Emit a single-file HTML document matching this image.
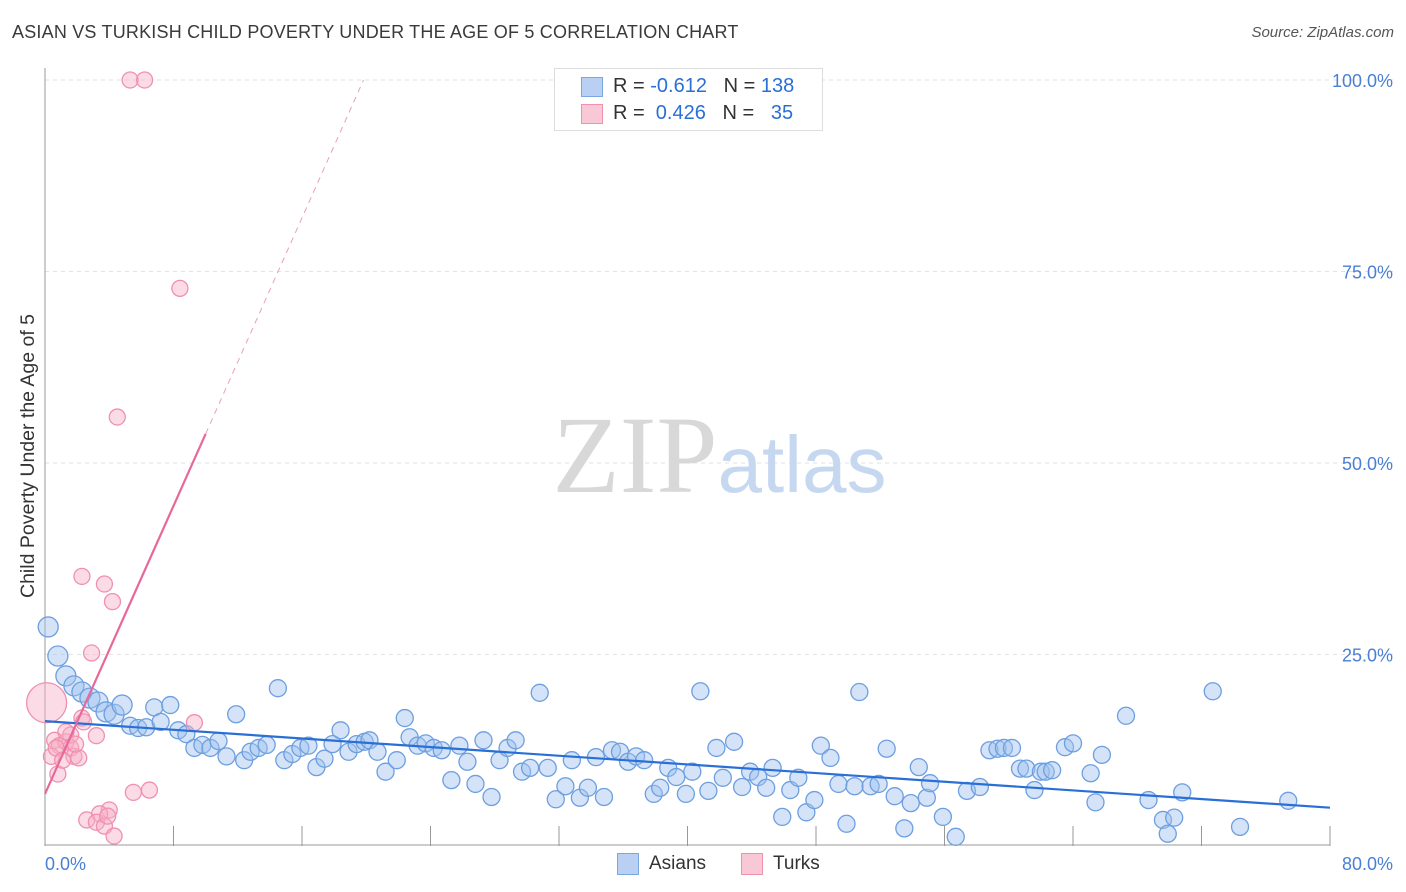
<!DOCTYPE html>
<html><head><meta charset="utf-8"><style>
body{margin:0;background:#fff;font-family:"Liberation Sans",sans-serif;}
#wrap{position:relative;width:1406px;height:892px;overflow:hidden;}
.t{position:absolute;white-space:nowrap;}
</style></head><body>
<div id="wrap">
<div class="t" style="left:12px;top:22px;font-size:18px;letter-spacing:0.2px;color:#3a3a3a;">ASIAN VS TURKISH CHILD POVERTY UNDER THE AGE OF 5 CORRELATION CHART</div>
<div class="t" style="right:12px;top:24px;font-size:15px;color:#555;font-style:italic;">Source: ZipAtlas.com</div>
<svg id="svg" width="1406" height="892" style="position:absolute;left:0;top:0"></svg>
</div>
<script>
const xTicks=[0,8,16,24,32,40,48,56,64,72,80];
const yTicks=[25,50,75,100];
const asianX=[0.2,0.8,1.3,1.8,2.3,2.8,3.3,3.8,4.3,4.8,5.3,5.8,6.3,6.8,7.2,7.8,8.3,8.8,9.3,9.8,10.3,10.8,11.3,11.9,12.4,12.8,13.3,13.8,14.5,14.9,15.4,15.9,16.4,16.9,17.4,17.9,18.4,18.9,19.4,19.9,20.2,20.7,21.2,21.9,22.4,22.7,23.2,23.7,24.2,24.7,25.3,25.8,26.3,26.8,27.3,27.8,28.3,28.8,29.3,29.7,30.2,30.8,31.3,31.8,32.4,32.8,33.3,33.8,34.3,34.8,35.3,35.8,36.3,36.8,37.3,37.9,38.3,38.8,39.3,39.9,40.3,40.8,41.3,41.8,42.2,42.9,43.4,43.9,44.4,44.9,45.3,45.9,46.4,46.9,47.4,47.9,48.3,48.9,49.4,49.9,50.4,50.7,51.4,51.9,52.4,52.9,53.5,53.9,54.4,54.9,55.1,55.9,56.7,57.4,58.2,58.8,59.3,59.7,60.2,60.7,61.1,61.6,62.0,62.3,62.7,63.5,64.0,65.1,65.4,65.8,67.3,68.7,69.6,69.9,70.3,70.8,72.7,74.4,77.4];
const asianY=[28.6,24.8,22.2,20.9,20.1,19.3,18.8,17.5,17.2,18.4,15.7,15.4,15.5,18.1,16.2,18.4,15.1,14.6,12.8,13.2,12.8,13.7,11.7,17.2,11.2,12.3,12.8,13.2,20.6,11.2,12.0,12.8,13.1,10.3,11.4,13.3,15.1,12.3,13.3,13.6,13.8,12.3,9.7,11.2,16.7,14.2,13.1,13.4,12.8,12.5,8.6,13.1,11.0,8.1,13.8,6.4,11.2,12.8,13.8,9.7,10.2,20.0,10.2,6.1,7.8,11.2,6.3,7.6,11.6,6.4,12.5,12.3,11.0,11.7,11.2,6.8,7.6,10.2,9.0,6.8,9.7,20.2,7.2,12.8,8.9,13.6,7.7,9.7,9.0,7.6,10.2,3.8,7.3,8.9,4.4,6.0,13.1,11.5,8.1,2.9,7.8,20.1,7.8,8.1,12.7,6.5,2.3,5.6,10.3,6.3,8.2,3.8,1.2,7.2,7.7,12.5,12.7,12.8,12.8,10.1,10.1,7.3,9.7,9.7,9.9,12.9,13.4,9.5,5.7,11.9,17.0,6.0,3.4,1.6,3.7,7.0,20.2,2.5,5.9];
const turkX=[5.3,6.2,8.4,4.5,2.3,3.7,4.2,2.9,0.1,2.3,2.4,9.3,0.6,0.9,1.3,1.6,1.8,2.1,3.2,1.6,0.4,0.8,6.5,5.5,4.0,3.4,2.6,3.2,3.7,4.3,3.9,1.3,0.7,1.1,1.9];
const turkY=[100,100,72.8,56.0,35.2,34.2,31.9,25.2,18.7,16.7,16.2,16.1,13.8,13.1,13.6,12.8,11.7,11.5,14.4,14.5,11.7,9.4,7.3,7.0,4.7,4.2,3.4,3.1,2.6,1.3,3.9,14.9,12.8,11.2,13.3];
const asianTrend=[16.3,5.0];
const turkTrend=[6.8,4.7];

const X=v=>45+v/80*1285, Y=v=>846-v*7.66;
const svg=document.getElementById('svg');
const NS='http://www.w3.org/2000/svg';
function mk(tag,attrs,parent){const e=document.createElementNS(NS,tag);for(const k in attrs)e.setAttribute(k,attrs[k]);(parent||svg).appendChild(e);return e;}
function txt(s,x,y,size,fill,anchor){const e=mk('text',{x:x,y:y,'font-size':size,fill:fill,'text-anchor':anchor||'start','font-family':'Liberation Sans, sans-serif'});e.textContent=s;return e;}

yTicks.forEach(t=>{
 const g=mk('line',{x1:45,x2:1393,y1:Y(t),y2:Y(t),stroke:'#e2e2e2','stroke-dasharray':'4,4'});
 
 
 const l=txt(t.toFixed(1)+'%',1393,Y(t)+7,18,'#4a7fd4','end');
 
 
});
const ax=mk('line',{x1:45,x2:45,y1:68,y2:846,stroke:'#999'});


const bx=mk('line',{x1:45,x2:1330,y1:845,y2:845,stroke:'#999'});


xTicks.forEach(t=>{
 const tk=mk('line',{x1:X(t),x2:X(t),y1:826,y2:846,stroke:'#999'});
 
 
});
const x0=txt('0.0%',45,870,18,'#4a7fd4','start');


const x1=txt('80.0%',1393,870,18,'#4a7fd4','end');


const yt=txt('Child Poverty Under the Age of 5',0,0,19.5,'#333','middle');
yt.setAttribute('transform','translate(34,456) rotate(-90)');


const w1=txt('ZIP',635,492,110,'#d8d8d8','middle');w1.setAttribute('font-family','Liberation Serif, serif');


const w2=txt('atlas',802,492,80,'#c6d8f0','middle');



asianX.forEach((v,i)=>{
 const r=v<5?10:8.5;
 const c=mk('circle',{cx:X(v),cy:Y(asianY[i]),r:r,fill:'rgba(160,192,238,0.45)',stroke:'#6d9fe0','stroke-width':1.3});
 
 
});
turkX.forEach((v,i)=>{
 const r=(v<0.2&&turkY[i]>17)?20:8;
 const c=mk('circle',{cx:X(v),cy:Y(turkY[i]),r:r,fill:'rgba(246,175,198,0.45)',stroke:'#f090b0','stroke-width':1.3});
 
 
});
const bl=mk('line',{x1:X(0),y1:Y(asianTrend[0]),x2:X(80),y2:Y(asianTrend[1]),stroke:'#2a6fd6','stroke-width':2.2});


const xe=(100-turkTrend[0])/turkTrend[1];
const pd=mk('line',{x1:X(10),y1:Y(turkTrend[0]+turkTrend[1]*10),x2:X(xe),y2:Y(100),stroke:'#e8a0b8','stroke-width':1,'stroke-dasharray':'6,5'});


const pl=mk('line',{x1:X(0),y1:Y(turkTrend[0]),x2:X(10),y2:Y(turkTrend[0]+turkTrend[1]*10),stroke:'#e8689a','stroke-width':2.2});


</script>
<div class="t" style="left:554px;top:68px;width:267px;height:61px;border:1px solid #ddd;background:#fff;">
 <div style="position:absolute;left:26px;top:8px;width:20px;height:18px;background:#b9d0f2;border:1px solid #7aa6e2;"></div>
 <div class="t" style="left:58px;top:6px;font-size:20px;color:#333;">R = <span style="color:#2a6fd6">-0.612</span>&nbsp;&nbsp;&nbsp;N = <span style="color:#2a6fd6">138</span></div>
 <div style="position:absolute;left:26px;top:35px;width:20px;height:18px;background:#f9c8d7;border:1px solid #f090b0;"></div>
 <div class="t" style="left:58px;top:33px;font-size:20px;color:#333;">R = &nbsp;<span style="color:#2a6fd6">0.426</span>&nbsp;&nbsp;&nbsp;N = &nbsp;&nbsp;<span style="color:#2a6fd6">35</span></div>
</div>
<div class="t" style="left:617px;top:853px;width:20px;height:20px;background:#b9d0f2;border:1px solid #7aa6e2;"></div>
<div class="t" style="left:649px;top:853px;font-size:19px;color:#333;">Asians</div>
<div class="t" style="left:741px;top:853px;width:20px;height:20px;background:#f9c8d7;border:1px solid #f090b0;"></div>
<div class="t" style="left:773px;top:853px;font-size:19px;color:#333;">Turks</div>
</body></html>
